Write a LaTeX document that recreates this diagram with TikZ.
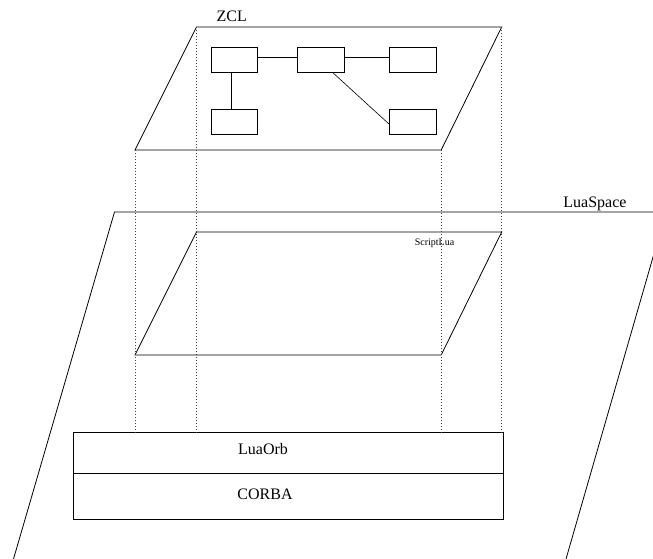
\documentclass[tikz,border=0pt]{standalone}
\usepackage{fontspec}
\setmainfont{Liberation Serif}
\begin{document}
\begin{tikzpicture}[x=1pt,y=-1pt,
  plane/.style={draw=black,line width=0.8pt,line join=miter},
  comp/.style={draw=black,line width=0.8pt,minimum width=46.7pt,minimum height=25pt,inner sep=0pt},
  link/.style={draw=black,line width=0.6pt},
  guide/.style={draw=black!75,line width=0.6pt,dash pattern=on 0.7pt off 2.3pt},
  bigtext/.style={font=\fontsize{16}{19}\selectfont,inner sep=0pt},
  smalltext/.style={font=\fontsize{10}{12}\selectfont,inner sep=0pt},
  layer/.style={draw=black,line width=0.8pt,minimum width=429.7pt,inner sep=0pt}]
\useasboundingbox (0,0) rectangle (653,559);
\clip (0,0) rectangle (653,559);
% LuaSpace plane (extends beyond the picture)
\coordinate (lsTL) at (114.5,212);
\coordinate (lsTR) at (666,212);
\coordinate (lsBL) at (13.5,559);
\coordinate (lsBR) at (566,559);
\draw[plane] (lsBL) -- (lsTL) -- (lsTR) -- (lsBR);
\node[bigtext] (luaspace) at (595,204) {LuaSpace};
% ZCL plane
\coordinate (zTL) at (196.5,27);
\coordinate (zTR) at (501.7,27);
\coordinate (zBR) at (441.2,150);
\coordinate (zBL) at (135,150);
\draw[plane] (zTL) -- (zTR) -- (zBR) -- (zBL) -- cycle;
\node[bigtext] (zcl) at (231.7,16) {ZCL};
% ScriptLua plane
\coordinate (sTL) at (196.5,232);
\coordinate (sTR) at (501.7,232);
\coordinate (sBR) at (441.2,355);
\coordinate (sBL) at (135,355);
\draw[plane] (sTL) -- (sTR) -- (sBR) -- (sBL) -- cycle;
\node[smalltext] (scriptlua) at (434.5,243.5) {ScriptLua};
% LuaOrb / CORBA stack
\node[layer,minimum height=40.5pt] (luaorb) at (288.2,452.8) {};
\node[layer,minimum height=46pt] (corba) at (288.2,496.3) {};
\node[bigtext] (luaorbtxt) at (263,449) {LuaOrb};
\node[bigtext] (corbatxt) at (265,494.5) {CORBA};
% dotted guides
\coordinate (g1t) at (135,150);   \coordinate (g1b) at (135,432.5);
\coordinate (g2t) at (196.5,27);  \coordinate (g2b) at (196.5,432.5);
\coordinate (g3t) at (441.2,150); \coordinate (g3b) at (441.2,432.5);
\coordinate (g4t) at (501.7,27);  \coordinate (g4b) at (501.7,432.5);
\draw[guide] (g1t) -- (g1b);
\draw[guide] (g2t) -- (g2b);
\draw[guide] (g3t) -- (g3b);
\draw[guide] (g4t) -- (g4b);
% ZCL components
\node[comp] (b1) at (234.3,60.2) {};
\node[comp] (b2) at (320.8,60.2) {};
\node[comp] (b3) at (412.7,60.2) {};
\node[comp] (b4) at (234.3,122) {};
\node[comp] (b5) at (412.7,122) {};
\draw[link] ([yshift=2.5pt]b1.east) -- ([yshift=2.5pt]b2.west);
\draw[link] ([yshift=2.5pt]b2.east) -- ([yshift=2.5pt]b3.west);
\draw[link] ([xshift=-2.6pt]b1.south) -- ([xshift=-2.6pt]b4.north);
\draw[link] ([xshift=12.5pt]b2.south) -- ([yshift=-2pt]b5.west);
\end{tikzpicture}
\end{document}
